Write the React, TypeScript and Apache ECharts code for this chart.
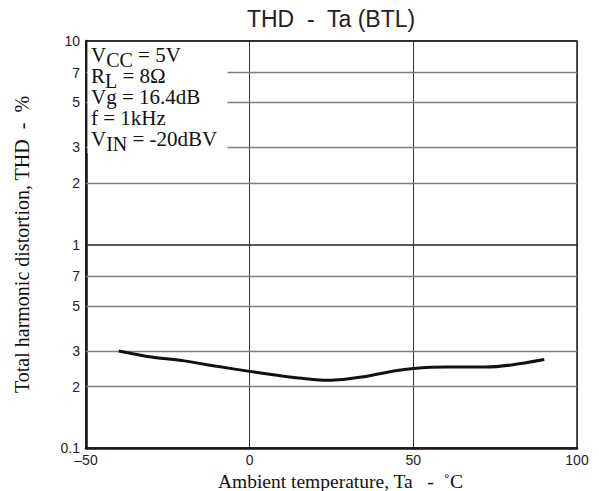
import React, { useEffect, useRef } from 'react';
import * as echarts from 'echarts';

// Curve (Ta in °C, THD in %)
const temperatures = [-40, -30, -20, -10, 0, 10, 15, 24, 35, 44, 50, 60, 72, 80, 90];
const thdValues = [0.3, 0.28, 0.268, 0.252, 0.238, 0.226, 0.221, 0.215, 0.224, 0.239, 0.246, 0.25, 0.25, 0.256, 0.272];

// Axis definitions
const xMin = -50;
const xMax = 100;
const xInterval = 50;
const yMin = 0.1;
const yMax = 10;
const yGridValues = [0.1, 0.2, 0.3, 0.5, 0.7, 1, 2, 3, 5, 7, 10];
const yTickLabels = ['0.1', '2', '3', '5', '7', '1', '2', '3', '5', '7', '10'];

const titleText = 'THD  -  Ta (BTL)';
const xAxisName = 'Ambient temperature, Ta   -  ˚C';
const yAxisName = 'Total harmonic distortion, THD  -  %';

// Condition block: [main, subscript, rest]
const conditions: [string, string, string][] = [
  ['V', 'CC', ' = 5V'],
  ['R', 'L', ' = 8Ω'],
  ['Vg = 16.4dB', '', ''],
  ['f = 1kHz', '', ''],
  ['V', 'IN', ' = -20dBV'],
];

export default function App() {
  const ref = useRef<HTMLDivElement>(null);

  useEffect(() => {
    if (!ref.current) return;
    const chart = echarts.init(ref.current, undefined, { renderer: 'svg' });

    const serif = 'Liberation Serif';
    const sans = 'Liberation Sans';

    const markData = yGridValues.map((v, i) => {
      const isEdge = v === yMin || v === yMax;
      const isOne = v === 1;
      return {
        yAxis: v,
        name: yTickLabels[i],
        lineStyle: {
          color: isEdge || isOne ? '#222' : '#7d7d7d',
          width: isEdge || isOne ? 1.5 : 1.4,
          type: 'solid',
        },
      };
    });

    const lineTops = [44, 65, 86, 107, 128];
    const condTexts = conditions.map((c, i) => {
      const [main, sub, rest] = c;
      const text = sub ? `{n|${main}}{s|${sub}}{n|${rest}}` : `{n|${main}}`;
      return {
        type: 'text',
        x: 91,
        y: lineTops[i],
        z: 101,
        style: {
          text,
          verticalAlign: 'top',
          rich: {
            n: { fontFamily: serif, fontSize: 21, lineHeight: 21, verticalAlign: 'top', fill: '#111' },
            s: { fontFamily: serif, fontSize: 20, lineHeight: 26, verticalAlign: 'bottom', fill: '#111' },
          },
        },
      };
    });

    const option: any = {
      animation: false,
      backgroundColor: '#fff',
      title: {
        text: titleText,
        left: 331,
        top: 7,
        padding: 0,
        textAlign: 'center',
        textStyle: { fontFamily: sans, fontSize: 23, fontWeight: 'normal', color: '#222' },
      },
      grid: {
        left: 86,
        right: 22,
        top: 41,
        bottom: 43,
        show: true,
        containLabel: false,
        outerBoundsMode: 'none',
        borderColor: '#222',
        borderWidth: 1.5,
        backgroundColor: 'transparent',
      },
      xAxis: {
        type: 'value',
        min: xMin,
        max: xMax,
        interval: xInterval,
        name: xAxisName,
        nameLocation: 'middle',
        nameGap: 21,
        nameTextStyle: { fontFamily: serif, fontSize: 19.5, color: '#111', padding: [0, 0, 0, 18] },
        axisLine: { show: true, onZero: false, lineStyle: { color: '#111', width: 2.5 } },
        axisTick: { show: false },
        axisLabel: {
          margin: 5,
          fontFamily: sans,
          fontSize: 14,
          color: '#222',
          formatter: (v: number) => (v < 0 ? '–' + Math.abs(v) : String(v)),
        },
        splitLine: { show: true, lineStyle: { color: '#333', width: 1 } },
      },
      yAxis: {
        type: 'log',
        logBase: 10,
        min: yMin,
        max: yMax,
        name: yAxisName,
        nameLocation: 'middle',
        nameGap: 54,
        nameRotate: 90,
        nameTextStyle: { fontFamily: serif, fontSize: 20, color: '#111' },
        axisLine: { show: true, onZero: false, lineStyle: { color: '#111', width: 2.5 } },
        axisTick: { show: false },
        axisLabel: { show: false },
        splitLine: { show: false },
      },
      graphic: [
        {
          type: 'group',
          z: 100,
          children: [
            {
              type: 'rect',
              z: 100,
              shape: { x: 87.5, y: 42, width: 140, height: 111 },
              style: { fill: '#fff' },
            },
            ...condTexts,
          ],
        },
      ],
      series: [
        {
          type: 'line',
          data: temperatures.map((t, i) => [t, thdValues[i]]),
          smooth: 0.3,
          showSymbol: false,
          lineStyle: { color: '#111', width: 3 },
          z: 5,
          markLine: {
            silent: true,
            symbol: ['none', 'none'],
            z: 1,
            label: {
              show: true,
              position: 'start',
              formatter: '{b}',
              distance: 6,
              fontFamily: sans,
              fontSize: 14,
              color: '#222',
            },
            data: markData,
          },
        },
      ],
    };

    chart.setOption(option);
    return () => chart.dispose();
  }, []);

  return <div ref={ref} style={{ width: 599, height: 491, position: 'absolute', left: 0, top: 0 }} />;
}
